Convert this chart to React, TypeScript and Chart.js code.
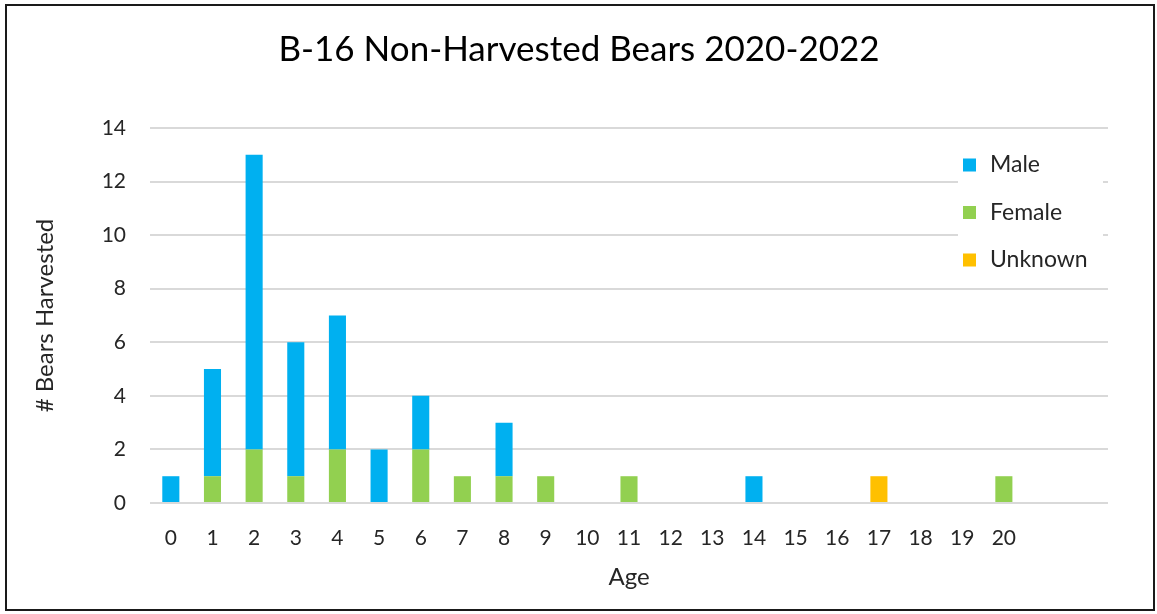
import React, { useEffect, useRef } from "react";
import { Chart, registerables } from "chart.js";

Chart.register(...registerables);

// Age classes (two trailing empty slots leave room at the right of the axis)
const ages = ["0","1","2","3","4","5","6","7","8","9","10","11","12","13","14","15","16","17","18","19","20","",""];
const male =    [1,4,11,5,5,2,2,0,2,0,0,0,0,0,1,0,0,0,0,0,0,0,0];
const female =  [0,1,2,1,2,0,2,1,1,1,0,1,0,0,0,0,0,0,0,0,1,0,0];
const unknown = [0,0,0,0,0,0,0,0,0,0,0,0,0,0,0,0,0,1,0,0,0,0,0];
const yTicks = [0, 2, 4, 6, 8, 10, 12, 14];

const FONT = "Lato, 'Open Sans', sans-serif";
const TEXT = "#262626";

// Legend drawn inside the plot area on a white panel, in Male / Female / Unknown order
const insideLegend = {
  id: "insideLegend",
  afterDatasetsDraw(chart: any) {
    const { ctx, chartArea } = chart;
    const order = ["Male", "Female", "Unknown"];
    const x0 = chartArea.right - 150;
    const y0 = chartArea.top + 19;
    ctx.save();
    ctx.fillStyle = "#ffffff";
    ctx.fillRect(x0, y0 - 2, 145, 130);
    ctx.font = `23px ${FONT}`;
    ctx.textBaseline = "middle";
    order.forEach((name, i) => {
      const ds = chart.data.datasets.find((d: any) => d.label === name);
      const cy = y0 + 18 + i * 47.5;
      ctx.fillStyle = ds.backgroundColor;
      ctx.fillRect(x0 + 5, cy - 6.5, 13, 13);
      ctx.fillStyle = TEXT;
      ctx.textAlign = "left";
      ctx.fillText(name, x0 + 32, cy);
    });
    ctx.restore();
  },
};

export default function App() {
  const ref = useRef<HTMLCanvasElement>(null);

  useEffect(() => {
    document.body.style.margin = "0";
    const chart = new Chart(ref.current!, {
      type: "bar",
      data: {
        labels: ages,
        datasets: [
          { label: "Female", data: female, backgroundColor: "#92D050" },
          { label: "Male", data: male, backgroundColor: "#00B0F0" },
          { label: "Unknown", data: unknown, backgroundColor: "#FFC000" },
        ],
      },
      options: {
        animation: false,
        responsive: false,
        maintainAspectRatio: false,
        layout: { padding: { left: 50, right: 49, top: 0, bottom: 0 } },
        datasets: { bar: { categoryPercentage: 1, barPercentage: 0.41 } },
        plugins: {
          legend: { display: false },
          tooltip: { enabled: false },
          title: {
            display: true,
            text: "B-16 Non-Harvested Bears 2020-2022",
            color: "#000000",
            font: { family: FONT, size: 35, weight: "normal" },
            padding: { top: 29, bottom: 57 },
          },
        },
        scales: {
          x: {
            stacked: true,
            grid: { display: false, drawTicks: false },
            border: { display: false },
            ticks: {
              color: TEXT,
              font: { family: FONT, size: 21 },
              padding: 23,
              maxRotation: 0,
              autoSkip: false,
            },
            title: {
              display: true,
              text: "Age",
              color: TEXT,
              font: { family: FONT, size: 24 },
              padding: { top: 14, bottom: 22 },
            },
            afterFit(scale: any) {
              scale.height = 111;
            },
          },
          y: {
            stacked: true,
            min: 0,
            max: 14,
            afterBuildTicks(scale: any) {
              scale.ticks = yTicks.map((v) => ({ value: v }));
            },
            grid: { color: "#d9d9d9", lineWidth: 2, drawTicks: false },
            border: { display: false },
            ticks: {
              color: TEXT,
              font: { family: FONT, size: 21 },
              padding: 24,
            },
            title: {
              display: true,
              text: "# Bears Harvested",
              color: TEXT,
              font: { family: FONT, size: 24 },
              padding: { top: -19, bottom: 0 },
            },
            afterFit(scale: any) {
              scale.width = 100;
            },
          },
        },
      },
      plugins: [insideLegend],
    });
    return () => chart.destroy();
  }, []);

  return (
    <div style={{ position: "relative", width: 1157, height: 614, background: "#fff" }}>
      <canvas ref={ref} width={1157} height={614} style={{ display: "block" }} />
      <div
        style={{
          position: "absolute",
          left: 5,
          top: 4,
          width: 1150,
          height: 607,
          border: "2px solid #1a1a1a",
          boxSizing: "border-box",
          pointerEvents: "none",
        }}
      />
    </div>
  );
}
